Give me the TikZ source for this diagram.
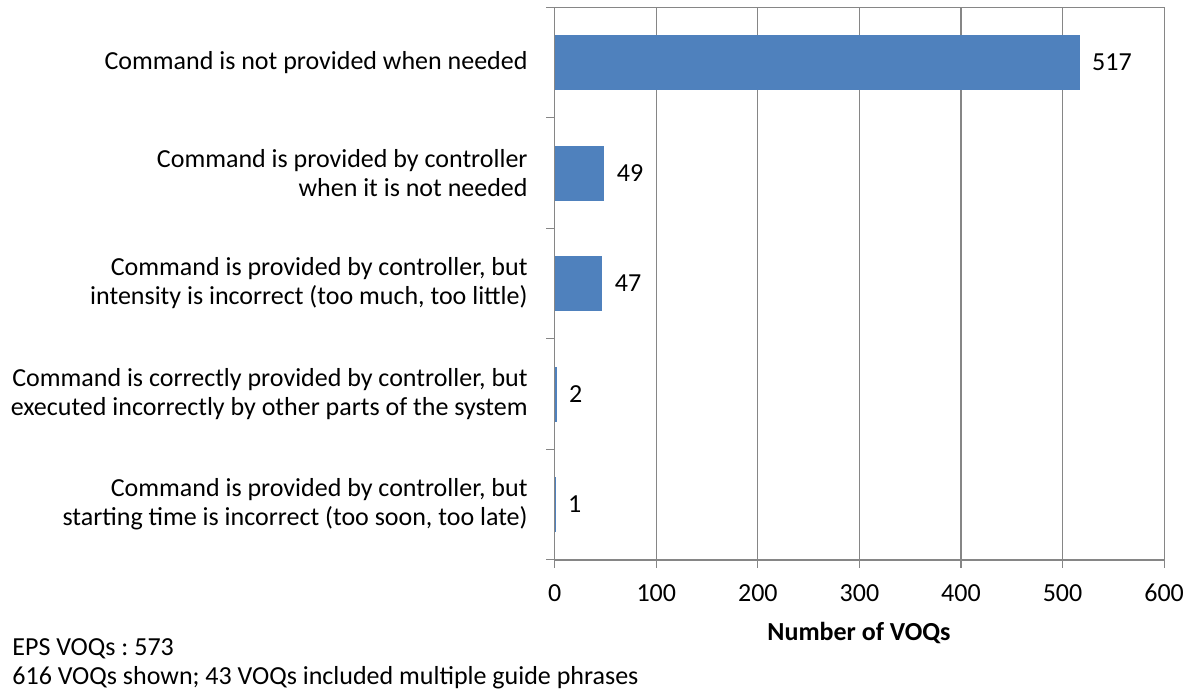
\documentclass[tikz,border=0pt]{standalone}
\usepackage{fontspec}
\setmainfont{Carlito}
\usetikzlibrary{positioning}
\definecolor{barblue}{RGB}{79,129,189}
\definecolor{gridgray}{RGB}{134,134,134}

\begin{document}
\frenchspacing
\begin{tikzpicture}[x=0.5pt,y=-0.5pt,
    every node/.style={font=\fontsize{13}{14.5}\selectfont,inner sep=0pt},
    grid/.style={draw=gridgray,line width=0.6pt},
    bar/.style={fill=barblue},
    cat/.style={anchor=east,align=right},
    val/.style={anchor=west}]
    \useasboundingbox (0,0) rectangle (1190,692);
    % gridlines and ticks
    \foreach \v in {1,...,6} \draw[grid] (554.7+101.57*\v,7.3) -- (554.7+101.57*\v,568);
    \foreach \i in {0,...,5} \draw[grid] (546,7.3+110.5*\i) -- (554.7,7.3+110.5*\i);
    \draw[grid] (554.7,7.3) -- (1164,7.3);
    \draw[grid] (554.7,560) -- (1164,560);
    % bars
    \foreach \i/\v in {1/517,2/49,3/47,4/2,5/1} {
        \pgfmathsetmacro\yc{7.3+110.5*(\i-0.5)}
        \fill[bar] (554.7,\yc-27.5) rectangle (554.7+1.0157*\v,\yc+27.5);
        \coordinate (e\i) at (554.7+1.0157*\v,\yc);
        \node[val,right=6pt of e\i] (v\i) {\v};
    }
    \draw[grid] (554.7,7.3) -- (554.7,568);
    % categories
    \node[cat] (c1) at (528,62.5) {Command is not provided when needed};
    \node[cat] (c2) at (528,173) {Command is provided by controller\\when it is not needed};
    \node[cat] (c3) at (528,283.5) {Command is provided by controller, but\\intensity is incorrect (too much, too little)};
    \node[cat] (c4) at (528,394) {Command is correctly provided by controller, but\\executed incorrectly by other parts of the system};
    \node[cat] (c5) at (528,504.5) {Command is provided by controller, but\\starting time is incorrect (too soon, too late)};
    % x axis
    \foreach \v in {0,100,...,600} \node (t\v) at (554.7+1.0157*\v,593) {\v};
    \node (xtitle) at (859,633) {\bfseries Number of VOQs};
    \node[anchor=west] (note1) at (12,649) {EPS VOQs : 573};
    \node[anchor=west] (note2) at (12,678) {616 VOQs shown; 43 VOQs included multiple guide phrases};
\end{tikzpicture}
\end{document}
